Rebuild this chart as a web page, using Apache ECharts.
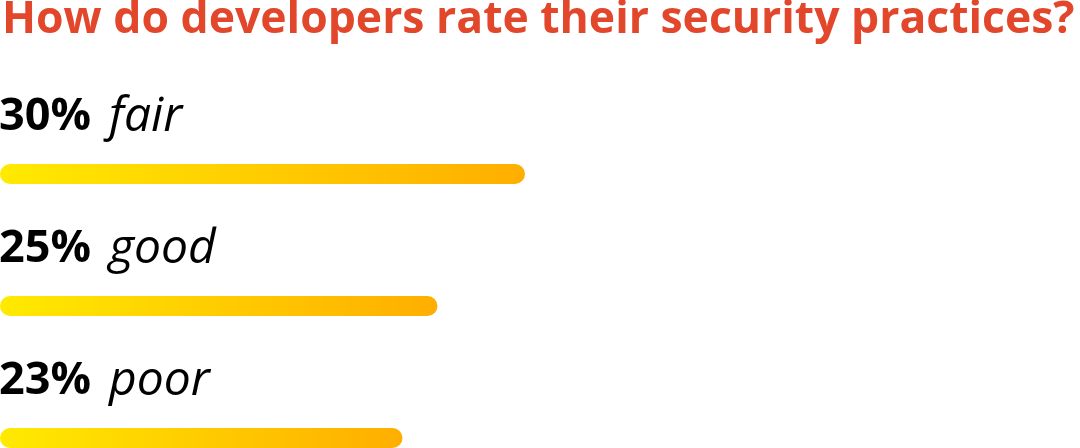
<!DOCTYPE html>
<html><head><meta charset="utf-8">
<script src="https://cdn.jsdelivr.net/npm/echarts@6/dist/echarts.min.js"></script>
<style>html,body{margin:0;padding:0;background:#fff}#c{width:1080px;height:448px}</style>
</head><body><div id="c"></div>
<script>
const titleText = 'How do developers rate their security practices?';
const categories = ['fair', 'good', 'poor'];
const values = [30, 25, 23];

const chart = echarts.init(document.getElementById('c'));
chart.setOption({
  backgroundColor: '#fff',
  animation: false,
  title: {
    text: titleText, left: -3, top: -7,
    textStyle: {fontFamily: 'Open Sans', fontWeight: 'bold', fontSize: 44.5, color: '#E2462B'}
  },
  grid: {left: 0, top: 174, width: 700, height: 264, containLabel: false},
  xAxis: {type: 'value', min: 0, max: 40, show: false},
  yAxis: {type: 'category', data: categories, inverse: true, show: false, boundaryGap: false},
  series: [{
    type: 'bar',
    data: values,
    barWidth: 20,
    itemStyle: {
      borderRadius: 10,
      color: new echarts.graphic.LinearGradient(0, 0, 1, 0, [
        {offset: 0, color: '#FFEA00'},
        {offset: 1, color: '#FFAE00'}
      ])
    },
    label: {
      show: true,
      position: [-1, -23],
      align: 'left',
      verticalAlign: 'bottom',
      formatter: p => '{b|' + p.value + '%}{i|' + p.name + '}',
      rich: {
        b: {fontFamily: 'Open Sans', fontWeight: 'bold', fontSize: 45, color: '#000', padding: [0, 18, 0, 0]},
        i: {fontFamily: 'Open Sans', fontStyle: 'italic', fontSize: 48, color: '#000'}
      }
    }
  }]
});
</script></body></html>
